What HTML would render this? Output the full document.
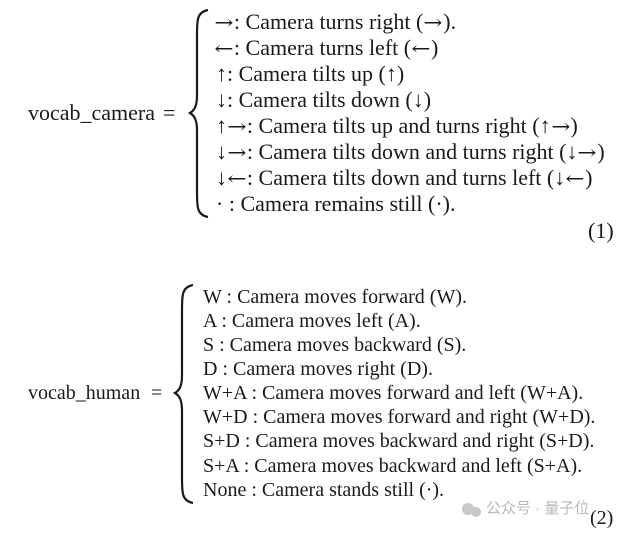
<!DOCTYPE html>
<html><head><meta charset="utf-8"><style>
body{margin:0;width:630px;height:533px;background:#fff;position:relative;overflow:hidden;font-family:"Liberation Serif",serif;color:#1a1a1a;font-size:20px}
.t{position:absolute;white-space:nowrap;line-height:20px}
.b1 .t{font-size:22px;line-height:22px}
.a{font-family:"DejaVu Serif",serif;font-size:19px;display:inline-block;transform:scaleX(1.2);margin:0 2px}
.wm{position:absolute;font-family:"Liberation Sans","Noto Sans CJK SC",sans-serif;color:#b8b8b8;font-size:15px;line-height:20px;white-space:nowrap}
</style></head><body>
<div class="b1">
<div class="t" style="left:28px;top:102px;font-size:22px">vocab_camera</div>
<div class="t" style="left:163px;top:102px">=</div>
<div class="t" style="left:214px;top:11px"><span class="a">→</span>: Camera turns right (<span class="a">→</span>).</div>
<div class="t" style="left:214px;top:37px"><span class="a">←</span>: Camera turns left (<span class="a">←</span>)</div>
<div class="t" style="left:216px;top:63px">↑: Camera tilts up (↑)</div>
<div class="t" style="left:216px;top:89px">↓: Camera tilts down (↓)</div>
<div class="t" style="left:216px;top:115px">↑<span class="a">→</span>: Camera tilts up and turns right (↑<span class="a">→</span>)</div>
<div class="t" style="left:216px;top:141px">↓<span class="a">→</span>: Camera tilts down and turns right (↓<span class="a">→</span>)</div>
<div class="t" style="left:216px;top:167px">↓<span class="a">←</span>: Camera tilts down and turns left (↓<span class="a">←</span>)</div>
<div class="t" style="left:216px;top:193px">· : Camera remains still (·).</div>
<div class="t" style="left:588px;top:220px">(1)</div>
</div>
<svg style="position:absolute;left:0;top:0" width="630" height="533">
<path d="M208,10 C197,12 197,20 197,35 L197,95 C197,105 195,110 190,113 C195,116 197,121 197,131 L197,192 C197,207 197,215 208,217" fill="none" stroke="#1a1a1a" stroke-width="2.2"/>
<path d="M193,285 C182,287 182,295 182,310 L182,375 C182,385 180,390 175,393 C180,396 182,401 182,411 L182,478 C182,493 182,501 193,503" fill="none" stroke="#1a1a1a" stroke-width="2.2"/>
<circle cx="468" cy="509" r="6" fill="#c8c8c8"/><circle cx="476" cy="512" r="5" fill="#c8c8c8"/>
</svg>
<div class="t" style="left:28px;top:383px">vocab_human</div>
<div class="t" style="left:151px;top:383px">=</div>
<div class="t" style="left:203px;top:287px">W : Camera moves forward (W).</div>
<div class="t" style="left:203px;top:311px">A : Camera moves left (A).</div>
<div class="t" style="left:203px;top:335px">S : Camera moves backward (S).</div>
<div class="t" style="left:203px;top:359px">D : Camera moves right (D).</div>
<div class="t" style="left:203px;top:383px">W+A : Camera moves forward and left (W+A).</div>
<div class="t" style="left:203px;top:407px">W+D : Camera moves forward and right (W+D).</div>
<div class="t" style="left:203px;top:431px">S+D : Camera moves backward and right (S+D).</div>
<div class="t" style="left:203px;top:456px">S+A : Camera moves backward and left (S+A).</div>
<div class="t" style="left:203px;top:480px">None : Camera stands still (·).</div>
<div class="wm" style="left:486px;top:499px">公众号 · 量子位</div>
<div class="t" style="left:590px;top:508px">(2)</div>
</body></html>
